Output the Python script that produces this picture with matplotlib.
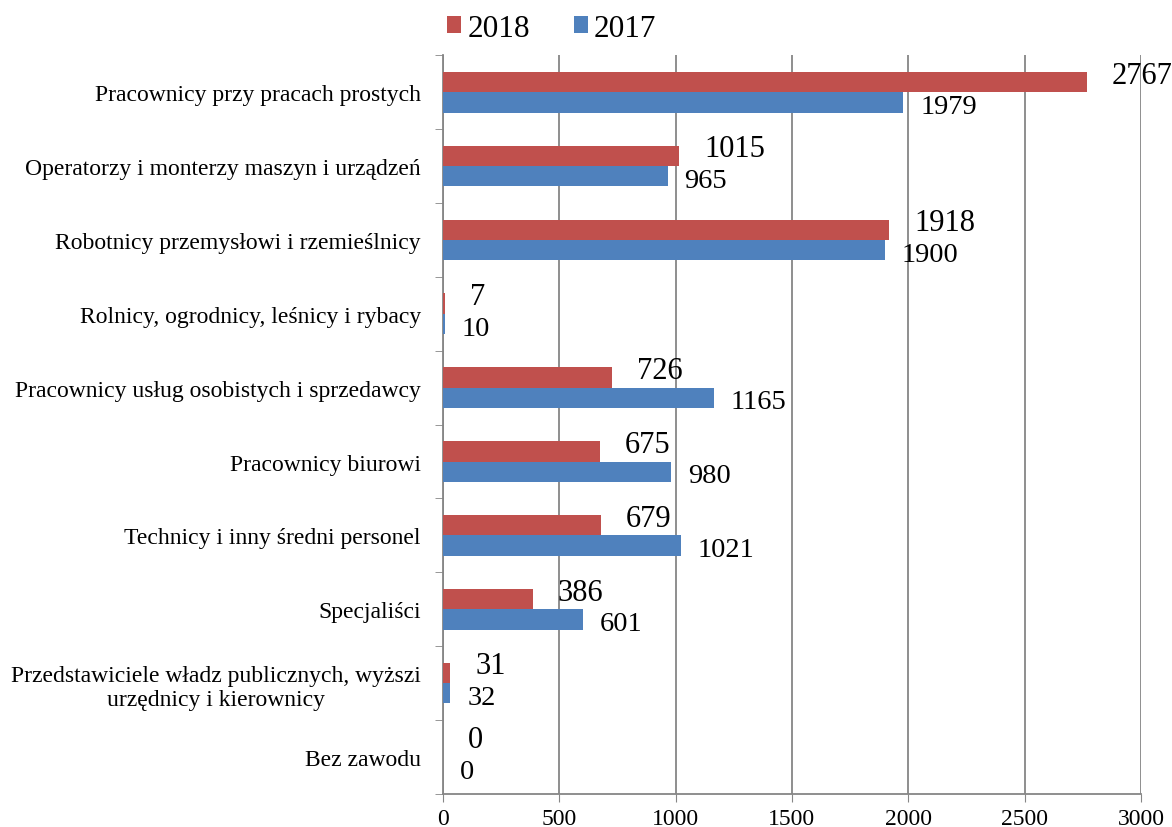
import numpy as np
import matplotlib.pyplot as plt

categories = [
    'Pracownicy przy pracach prostych',
    'Operatorzy i monterzy maszyn i urządzeń',
    'Robotnicy przemysłowi i rzemieślnicy',
    'Rolnicy, ogrodnicy, leśnicy i rybacy',
    'Pracownicy usług osobistych i sprzedawcy',
    'Pracownicy biurowi',
    'Technicy i inny średni personel',
    'Specjaliści',
    'Przedstawiciele władz publicznych, wyższi\nurzędnicy i kierownicy',
    'Bez zawodu',
]
v2018 = [2767, 1015, 1918, 7, 726, 675, 679, 386, 31, 0]
v2017 = [1979, 965, 1900, 10, 1165, 980, 1021, 601, 32, 0]
xticks = [0, 500, 1000, 1500, 2000, 2500, 3000]

red = '#C0504D'
blue = '#4F81BD'
grid_c = '#868686'

plt.rcParams['font.family'] = ['Liberation Serif', 'DejaVu Serif']

fig = plt.figure(figsize=(11.72, 8.28), dpi=100)
ax = fig.add_axes([0.378, 0.040, 0.5955, 0.892])

n = len(categories)
y = np.arange(n)
h = 0.275
ax.barh(y - h / 2, v2018, height=h, color=red, label='2018', zorder=3)
ax.barh(y + h / 2, v2017, height=h, color=blue, label='2017', zorder=3)

for yi, a, b in zip(y, v2018, v2017):
    ax.annotate(str(a), (a, yi - h / 2), xytext=(18, 5), textcoords='offset points',
                ha='left', va='center', fontsize=22)
    ax.annotate(str(b), (b, yi + h / 2), xytext=(12, -3), textcoords='offset points',
                ha='left', va='center', fontsize=20.5)

ax.set_xlim(0, 3000)
ax.set_ylim(n - 0.5, -0.5)
ax.set_xticks(xticks)
ax.set_xticklabels([str(t) for t in xticks], fontsize=17)
ax.set_yticks(y)
ax.set_yticklabels(categories, fontsize=17, ha='right', multialignment='center')
ax.tick_params(axis='y', length=0, pad=16)
ax.set_yticks(np.arange(-0.5, n, 1), minor=True)
ax.tick_params(axis='y', which='minor', length=6, color=grid_c, direction='out')
ax.tick_params(axis='x', length=6, color=grid_c, direction='out', pad=4)

ax.grid(axis='x', color=grid_c, linewidth=1.3, zorder=0)
for s in ['top', 'right']:
    ax.spines[s].set_visible(False)
for s in ['left', 'bottom']:
    ax.spines[s].set_color(grid_c)
    ax.spines[s].set_linewidth(1.3)

ax.legend(loc='lower left', bbox_to_anchor=(-0.012, 1.0), ncol=2, frameon=False,
          fontsize=22.5, handlelength=0.45, handleheight=0.45, handletextpad=0.2,
          columnspacing=1.4, borderaxespad=0.0)

fig.savefig('out.png', dpi=100)
